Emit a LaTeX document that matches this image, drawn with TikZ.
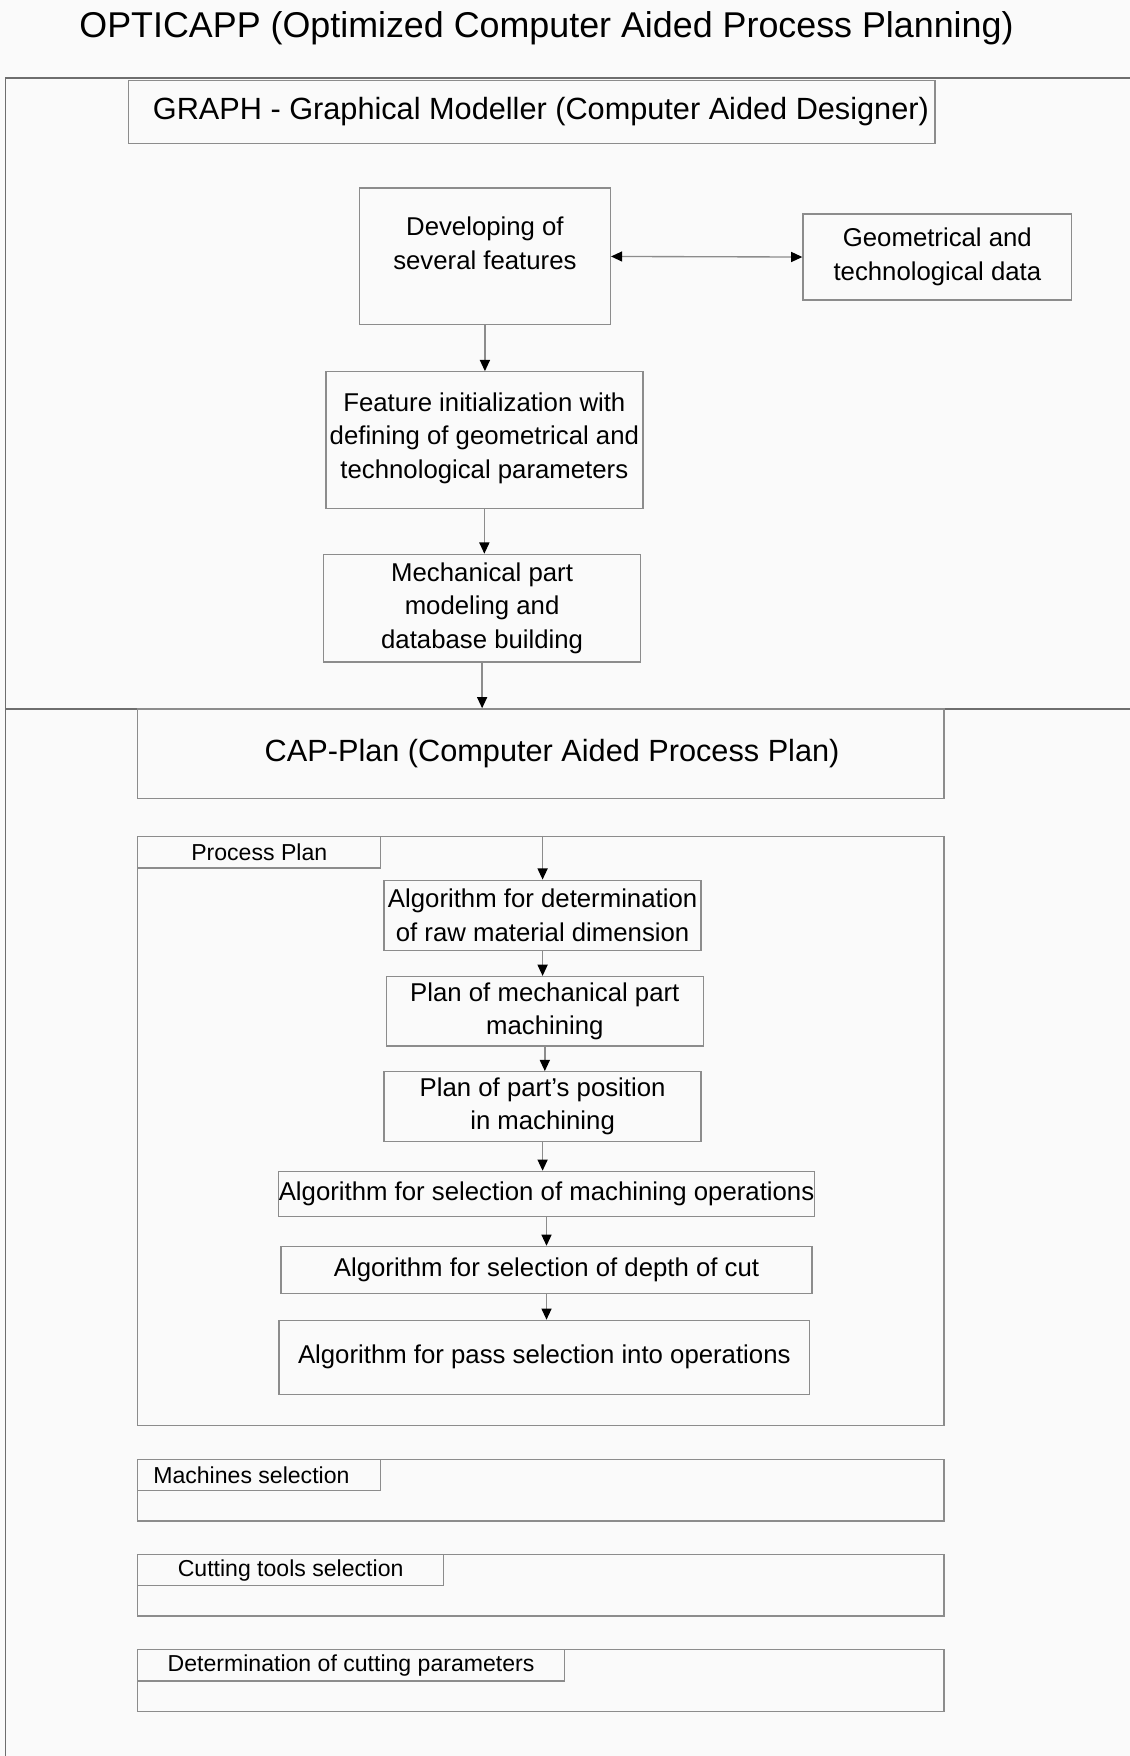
\documentclass[tikz,border=0pt]{standalone}
\usepackage{fontspec}
\setmainfont{Liberation Sans}
\usepackage{tikz}
\usetikzlibrary{arrows.meta,positioning,calc}
\definecolor{PaperGray}{HTML}{FAFAFA}
\definecolor{FrameGray}{HTML}{6E6E6E}
\definecolor{BoxGray}{HTML}{8C8C8C}

\begin{document}
\begin{tikzpicture}[x=0.5pt,y=-0.5pt,
    box/.style={draw=BoxGray,line width=0.6pt,inner sep=0pt,align=center,
                font=\fontsize{11.5}{15}\selectfont},
    bigbox/.style={box,font=\fontsize{13.7}{17}\selectfont},
    tabbox/.style={box,anchor=north west,minimum height=14pt,
                   font=\fontsize{10.3}{12}\selectfont},
    flow/.style={BoxGray,line width=0.6pt,-{Triangle[width=4.5pt,length=5pt,color=black]}},
    twoway/.style={flow,{Triangle[width=4.5pt,length=5pt,color=black]}-{Triangle[width=4.5pt,length=5pt,color=black]}}]
  % Page
  \fill[PaperGray] (0,0) rectangle (1009,1568);
  \useasboundingbox (0,0) rectangle (1009,1568);
  \node (title) at (488,25) {\fontsize{16}{19}\selectfont OPTICAPP (Optimized Computer Aided Process Planning)};
  % Frame of the two parts
  \draw[FrameGray,line width=0.8pt] (5,1568) -- (5,70) -- (1009,70);
  \draw[FrameGray,line width=0.8pt] (5,633) -- (1009,633);
  % GRAPH part
  \node[bigbox,minimum width=360pt,minimum height=28pt] (graph) at (475,100)
    {\hspace*{8pt}GRAPH - Graphical Modeller (Computer Aided Designer)};
  \node[box,minimum width=112pt,minimum height=61pt] (develop) at (433,229)
    {Developing of\\several features\\[-3pt]};
  \node[box,minimum width=120pt,minimum height=38.5pt] (geodata) at (837,229.5)
    {Geometrical and\\technological data};
  \node[box,minimum width=141.5pt,minimum height=61pt] (featinit) at (432.5,393)
    {Feature initialization with\\defining of geometrical and\\technological parameters\\[-11pt]};
  \node[box,minimum width=141.5pt,minimum height=48pt] (partmodel) at (430.5,543)
    {Mechanical part\\modeling and\\database building};
  \draw[twoway] (develop.east) -- (geodata.west);
  \draw[flow] (develop.south) -- (develop.south |- featinit.north);
  \draw[flow] (featinit.south) -- (featinit.south |- partmodel.north);
  % CAP-Plan part
  \node[bigbox,minimum width=360pt,minimum height=40pt] (capplan) at (483,673)
    {\hspace*{10pt}CAP-Plan (Computer Aided Process Plan)};
  \draw[flow] (partmodel.south) -- (partmodel.south |- capplan.north);
  \node[box,minimum width=360pt,minimum height=263pt] (procplan) at (483,1010) {};
  \node[tabbox,minimum width=108.5pt] (proctab) at (procplan.north west) {Process Plan};
  \node[box,minimum width=141.5pt,minimum height=31.5pt] (rawmat) at (484.5,817.5)
    {Algorithm for determination\\of raw material dimension};
  \node[box,minimum width=141.5pt,minimum height=31pt] (machplan) at (486.5,903)
    {Plan of mechanical part\\machining};
  \node[box,minimum width=141.5pt,minimum height=31pt] (position) at (484.5,988)
    {Plan of part’s position\\in machining};
  \node[box,minimum width=237pt,minimum height=20pt] (operations) at (488,1066)
    {Algorithm for selection of machining operations};
  \node[box,minimum width=237pt,minimum height=21pt] (depthcut) at (488,1134)
    {Algorithm for selection of depth of cut};
  \node[box,minimum width=237pt,minimum height=33pt] (passes) at (486,1212)
    {Algorithm for pass selection into operations};
  \draw[flow] (procplan.north -| rawmat.north) -- (rawmat.north);
  \draw[flow] (rawmat.south) -- (rawmat.south |- machplan.north);
  \draw[flow] (machplan.south) -- (machplan.south |- position.north);
  \draw[flow] (position.south) -- (position.south |- operations.north);
  \draw[flow] (operations.south) -- (operations.south |- depthcut.north);
  \draw[flow] (depthcut.south) -- (depthcut.south |- passes.north);
  % Selections below the process plan
  \node[box,minimum width=360pt,minimum height=27.5pt] (machines) at (483,1330.5) {};
  \node[tabbox,minimum width=108.5pt] (machtab) at (machines.north west) {Machines selection\hspace*{7pt}};
  \node[box,minimum width=360pt,minimum height=27.5pt] (tools) at (483,1415.5) {};
  \node[tabbox,minimum width=136.5pt] (tooltab) at (tools.north west) {Cutting tools selection};
  \node[box,minimum width=360pt,minimum height=27.5pt] (params) at (483,1500.5) {};
  \node[tabbox,minimum width=190.5pt] (paramtab) at (params.north west) {Determination of cutting parameters};
\end{tikzpicture}
\end{document}
